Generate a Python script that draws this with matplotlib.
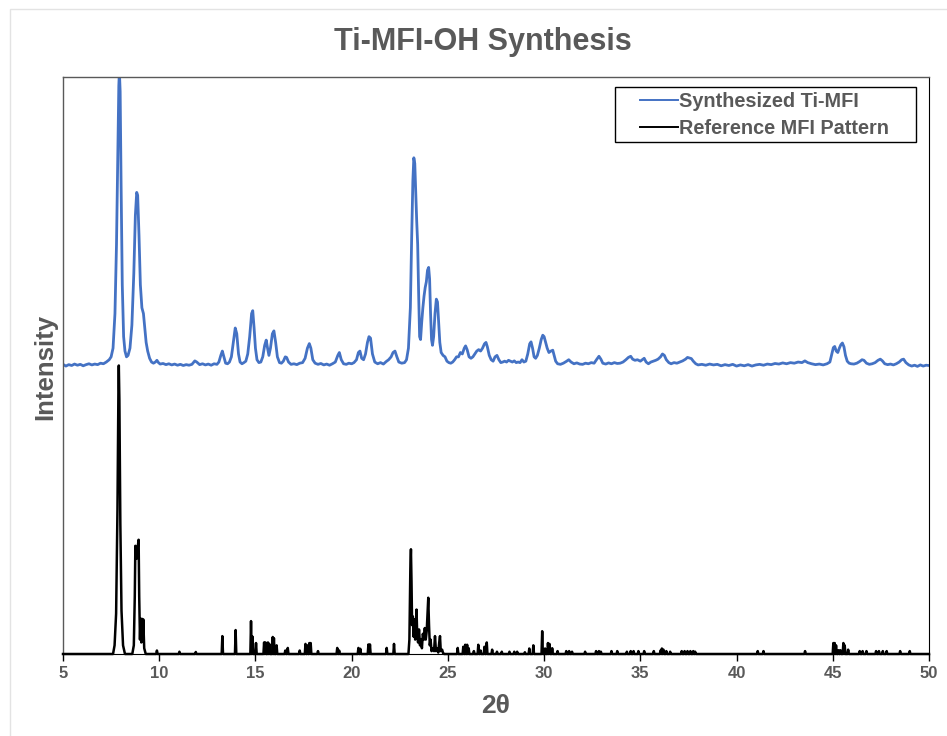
import matplotlib
matplotlib.use("Agg")
import matplotlib.pyplot as plt
from matplotlib.patches import Rectangle
import numpy as np

plt.rcParams["font.family"] = ["Liberation Sans", "DejaVu Sans"]

TITLE = "Ti-MFI-OH Synthesis"
X_LABEL = "2θ"
Y_LABEL = "Intensity"
SERIES_NAMES = ["Synthesized Ti-MFI", "Reference MFI Pattern"]
X_TICKS = [5, 10, 15, 20, 25, 30, 35, 40, 45, 50]

# synthesized sample: (2theta, intensity normalised to strongest peak)
synth_pattern = [
    (5.0, 0.004), (5.15, -0.002), (5.3, 0.003), (5.45, 0.000), (5.6, 0.005),
    (5.75, 0.001), (5.9, 0.004), (6.05, -0.001), (6.2, 0.003), (6.35, 0.006),
    (6.5, 0.002), (6.65, 0.005), (6.8, 0.003), (6.95, 0.008), (7.1, 0.006),
    (7.25, 0.012), (7.4, 0.02), (7.5, 0.03), (7.6, 0.06), (7.7, 0.18),
    (7.78, 0.42), (7.85, 0.75), (7.9, 0.97), (7.93, 1.02), (7.97, 0.95),
    (8.02, 0.62), (8.08, 0.28), (8.15, 0.10), (8.22, 0.05), (8.3, 0.03),
    (8.38, 0.035), (8.48, 0.06), (8.58, 0.14), (8.68, 0.32), (8.76, 0.52),
    (8.83, 0.60), (8.88, 0.59), (8.95, 0.45), (9.02, 0.28), (9.1, 0.20),
    (9.18, 0.18), (9.25, 0.13), (9.32, 0.08), (9.4, 0.05), (9.5, 0.025),
    (9.6, 0.012), (9.7, 0.008), (9.8, 0.012), (9.88, 0.018), (9.96, 0.01),
    (10.05, 0.005), (10.2, 0.007), (10.35, 0.003), (10.5, 0.006), (10.65, 0.002),
    (10.8, 0.005), (10.95, 0.001), (11.1, 0.004), (11.25, 0.000), (11.4, 0.003),
    (11.55, 0.001), (11.7, 0.004), (11.85, 0.016), (11.95, 0.012), (12.1, 0.003),
    (12.25, 0.006), (12.4, 0.002), (12.55, 0.005), (12.7, 0.001), (12.85, 0.006),
    (13.0, 0.004), (13.1, 0.012), (13.2, 0.035), (13.28, 0.05), (13.36, 0.03),
    (13.45, 0.008), (13.55, 0.006), (13.65, 0.012), (13.75, 0.03), (13.85, 0.08),
    (13.95, 0.13), (14.03, 0.11), (14.12, 0.04), (14.2, 0.012), (14.3, 0.006),
    (14.4, 0.01), (14.5, 0.015), (14.6, 0.04), (14.7, 0.10), (14.8, 0.18),
    (14.86, 0.19), (14.93, 0.13), (15.0, 0.06), (15.08, 0.02), (15.18, 0.01),
    (15.28, 0.012), (15.38, 0.03), (15.48, 0.07), (15.56, 0.088), (15.63, 0.06),
    (15.7, 0.035), (15.78, 0.06), (15.88, 0.11), (15.96, 0.12), (16.05, 0.08),
    (16.14, 0.03), (16.25, 0.01), (16.35, 0.008), (16.45, 0.015), (16.55, 0.03),
    (16.62, 0.028), (16.72, 0.012), (16.85, 0.004), (17.0, 0.006), (17.15, 0.003),
    (17.3, 0.008), (17.45, 0.01), (17.58, 0.025), (17.7, 0.06), (17.8, 0.076),
    (17.88, 0.06), (17.98, 0.02), (18.1, 0.008), (18.25, 0.004), (18.4, 0.007),
    (18.55, 0.002), (18.7, 0.005), (18.85, 0.001), (19.0, 0.006), (19.15, 0.012),
    (19.28, 0.035), (19.36, 0.045), (19.46, 0.02), (19.58, 0.006), (19.72, 0.004),
    (19.85, 0.008), (20.0, 0.006), (20.12, 0.01), (20.25, 0.02), (20.35, 0.045),
    (20.43, 0.05), (20.52, 0.025), (20.62, 0.02), (20.72, 0.04), (20.82, 0.08),
    (20.9, 0.10), (20.98, 0.095), (21.08, 0.04), (21.2, 0.012), (21.35, 0.006),
    (21.5, 0.01), (21.65, 0.005), (21.8, 0.014), (21.92, 0.02), (22.05, 0.03),
    (22.15, 0.045), (22.25, 0.05), (22.35, 0.03), (22.45, 0.012), (22.6, 0.008),
    (22.75, 0.01), (22.85, 0.02), (22.95, 0.06), (23.05, 0.20), (23.12, 0.45),
    (23.18, 0.64), (23.23, 0.72), (23.28, 0.70), (23.33, 0.60), (23.38, 0.50),
    (23.43, 0.42), (23.48, 0.25), (23.53, 0.10), (23.58, 0.09), (23.64, 0.15),
    (23.7, 0.20), (23.76, 0.24), (23.82, 0.27), (23.88, 0.29), (23.94, 0.33),
    (24.0, 0.34), (24.05, 0.30), (24.1, 0.18), (24.15, 0.09), (24.2, 0.07),
    (24.26, 0.10), (24.33, 0.18), (24.4, 0.23), (24.46, 0.22), (24.52, 0.15),
    (24.58, 0.08), (24.65, 0.045), (24.75, 0.035), (24.85, 0.03), (24.95, 0.015),
    (25.05, 0.01), (25.15, 0.008), (25.25, 0.012), (25.35, 0.02), (25.45, 0.03),
    (25.55, 0.03), (25.65, 0.045), (25.75, 0.04), (25.85, 0.06), (25.92, 0.068),
    (26.0, 0.055), (26.1, 0.03), (26.2, 0.025), (26.3, 0.03), (26.4, 0.04),
    (26.5, 0.05), (26.6, 0.055), (26.7, 0.05), (26.8, 0.06), (26.9, 0.075),
    (26.98, 0.08), (27.05, 0.065), (27.15, 0.035), (27.25, 0.02), (27.35, 0.015),
    (27.45, 0.03), (27.55, 0.035), (27.65, 0.02), (27.75, 0.01), (27.85, 0.012),
    (27.95, 0.015), (28.05, 0.012), (28.15, 0.018), (28.25, 0.015), (28.35, 0.012),
    (28.45, 0.016), (28.55, 0.01), (28.65, 0.012), (28.75, 0.01), (28.85, 0.02),
    (28.95, 0.012), (29.05, 0.015), (29.15, 0.04), (29.25, 0.075), (29.32, 0.082),
    (29.4, 0.06), (29.48, 0.03), (29.56, 0.025), (29.65, 0.035), (29.75, 0.06),
    (29.85, 0.09), (29.93, 0.105), (30.0, 0.10), (30.08, 0.08), (30.16, 0.06),
    (30.25, 0.045), (30.35, 0.05), (30.45, 0.053), (30.52, 0.035), (30.6, 0.015),
    (30.7, 0.006), (30.85, 0.004), (31.0, 0.008), (31.15, 0.014), (31.28, 0.02),
    (31.4, 0.012), (31.55, 0.006), (31.7, 0.009), (31.85, 0.005), (32.0, 0.004),
    (32.15, 0.008), (32.3, 0.006), (32.45, 0.01), (32.6, 0.008), (32.72, 0.02),
    (32.85, 0.032), (32.95, 0.022), (33.05, 0.008), (33.2, 0.005), (33.35, 0.009),
    (33.5, 0.006), (33.65, 0.01), (33.8, 0.007), (33.95, 0.008), (34.1, 0.012),
    (34.25, 0.02), (34.38, 0.028), (34.5, 0.032), (34.6, 0.022), (34.72, 0.018),
    (34.85, 0.02), (35.0, 0.015), (35.1, 0.02), (35.2, 0.025), (35.3, 0.012),
    (35.42, 0.006), (35.55, 0.012), (35.68, 0.015), (35.8, 0.018), (35.92, 0.022),
    (36.05, 0.03), (36.15, 0.04), (36.25, 0.035), (36.35, 0.02), (36.48, 0.01),
    (36.6, 0.006), (36.75, 0.01), (36.9, 0.008), (37.05, 0.012), (37.2, 0.016),
    (37.35, 0.022), (37.45, 0.028), (37.55, 0.026), (37.65, 0.024), (37.75, 0.015),
    (37.88, 0.006), (38.0, 0.002), (38.2, 0.004), (38.4, 0.001), (38.6, 0.005),
    (38.8, 0.002), (39.0, 0.004), (39.2, -0.001), (39.4, 0.003), (39.6, 0.000),
    (39.8, 0.004), (40.0, -0.002), (40.2, 0.002), (40.4, -0.001), (40.6, 0.003),
    (40.8, -0.002), (41.0, 0.002), (41.2, 0.004), (41.4, 0.001), (41.6, 0.005),
    (41.8, 0.003), (42.0, 0.007), (42.2, 0.005), (42.4, 0.009), (42.6, 0.006),
    (42.8, 0.01), (43.0, 0.008), (43.2, 0.012), (43.4, 0.01), (43.55, 0.016),
    (43.7, 0.01), (43.9, 0.006), (44.1, 0.003), (44.3, 0.005), (44.5, 0.002),
    (44.7, 0.006), (44.85, 0.012), (44.95, 0.04), (45.03, 0.062), (45.1, 0.066),
    (45.18, 0.05), (45.26, 0.045), (45.34, 0.06), (45.42, 0.072), (45.5, 0.078),
    (45.58, 0.065), (45.66, 0.035), (45.75, 0.015), (45.85, 0.008), (45.95, 0.006),
    (46.1, 0.005), (46.25, 0.008), (46.4, 0.014), (46.52, 0.02), (46.62, 0.018),
    (46.75, 0.008), (46.9, 0.004), (47.05, 0.006), (47.2, 0.01), (47.35, 0.018),
    (47.47, 0.022), (47.58, 0.016), (47.7, 0.006), (47.85, 0.003), (48.0, 0.005),
    (48.15, 0.002), (48.3, 0.006), (48.45, 0.012), (48.58, 0.02), (48.68, 0.022),
    (48.8, 0.01), (48.95, 0.002), (49.1, -0.002), (49.25, 0.001), (49.4, -0.003),
    (49.55, 0.002), (49.7, -0.002), (49.85, 0.001), (50.0, 0.0),
]

# reference pattern, main reflections traced point by point
ref_main_peaks = [
    [(7.6, 0.0), (7.68, 0.03), (7.76, 0.14), (7.83, 0.5), (7.88, 0.92), (7.9, 1.0),
     (7.93, 0.88), (7.98, 0.45), (8.04, 0.15), (8.12, 0.03), (8.22, 0.0)],
    [(8.6, 0.0), (8.68, 0.03), (8.73, 0.2), (8.76, 0.375), (8.82, 0.33),
     (8.88, 0.37), (8.93, 0.396), (8.96, 0.2), (8.98, 0.12), (9.0, 0.05),
     (9.03, 0.122), (9.07, 0.04), (9.1, 0.122), (9.14, 0.05), (9.17, 0.12),
     (9.22, 0.02), (9.3, 0.0)],
    [(22.95, 0.0), (23.0, 0.05), (23.05, 0.3), (23.08, 0.363), (23.11, 0.25),
     (23.14, 0.1), (23.18, 0.13), (23.22, 0.06), (23.26, 0.12), (23.3, 0.05),
     (23.34, 0.1), (23.37, 0.154), (23.4, 0.08), (23.45, 0.04), (23.5, 0.085),
     (23.55, 0.03), (23.6, 0.05), (23.65, 0.02), (23.7, 0.07), (23.75, 0.05),
     (23.8, 0.09), (23.85, 0.05), (23.9, 0.08), (23.95, 0.15), (23.98, 0.195),
     (24.02, 0.1), (24.06, 0.03), (24.1, 0.05), (24.15, 0.01), (24.2, 0.02),
     (24.28, 0.01), (24.33, 0.062), (24.38, 0.01), (24.45, 0.02), (24.5, 0.005),
     (24.55, 0.04), (24.59, 0.062), (24.63, 0.01), (24.7, 0.015), (24.75, 0.003),
     (24.8, 0.0)],
]

# reference pattern, weak reflections (position, relative height)
ref_minor_pos = [
    9.88, 11.05, 11.9, 13.28, 13.97, 14.77, 14.85, 15.03, 15.45, 15.52,
    15.65, 15.72, 15.9, 15.96, 16.1, 16.55, 16.68, 17.3, 17.6, 17.7,
    17.8, 17.87, 18.25, 19.25, 19.35, 20.35, 20.45, 20.87, 20.95, 21.82,
    22.2, 25.51, 25.8, 25.9, 26.0, 26.08, 26.35, 26.58, 26.7, 26.9,
    27.02, 27.3, 27.55, 27.8, 28.2, 28.45, 28.6, 29.0, 29.23, 29.44,
    29.9, 30.05, 30.2, 30.28, 30.42, 30.7, 31.15, 31.3, 31.45, 32.13,
    32.7, 32.85, 32.95, 33.5, 33.8, 34.3, 34.5, 34.65, 34.9, 35.2,
    35.7, 36.05, 36.12, 36.2, 36.35, 36.55, 37.15, 37.3, 37.45, 37.6,
    37.75, 37.85, 41.1, 41.4, 43.56, 45.03, 45.1, 45.17, 45.3, 45.4,
    45.55, 45.62, 45.8, 46.4, 46.55, 46.75, 47.25, 47.4, 47.6, 47.8,
    48.5, 49.0,
]
ref_minor_int = [
    0.012, 0.008, 0.007, 0.062, 0.083, 0.114, 0.06, 0.038, 0.04, 0.04,
    0.04, 0.035, 0.059, 0.055, 0.03, 0.012, 0.021, 0.012, 0.035, 0.03,
    0.038, 0.038, 0.01, 0.021, 0.012, 0.021, 0.018, 0.033, 0.033, 0.021,
    0.035, 0.021, 0.025, 0.032, 0.032, 0.02, 0.01, 0.032, 0.012, 0.025,
    0.04, 0.015, 0.008, 0.008, 0.008, 0.008, 0.008, 0.006, 0.019, 0.03,
    0.079, 0.019, 0.038, 0.035, 0.02, 0.01, 0.01, 0.01, 0.008, 0.008,
    0.01, 0.01, 0.008, 0.01, 0.01, 0.008, 0.01, 0.01, 0.01, 0.01,
    0.01, 0.012, 0.019, 0.015, 0.01, 0.008, 0.01, 0.01, 0.01, 0.01,
    0.01, 0.008, 0.01, 0.01, 0.01, 0.038, 0.038, 0.03, 0.013, 0.013,
    0.038, 0.03, 0.015, 0.01, 0.01, 0.01, 0.01, 0.01, 0.01, 0.01,
    0.01, 0.01,
]

BLUE = "#4472C4"
TEXT_GRAY = "#595959"
OFFSET = 0.5   # vertical stacking of the two patterns
SCALE = 0.5
STICK_HALF_WIDTH = 0.035

W, H = 947, 736


def fx(px):
    return px / W


def fy(py):
    return 1 - py / H


def reference_profile():
    """Merge traced main peaks and weak sticks into one sorted polyline."""
    segments = [list(seg) for seg in ref_main_peaks]
    for pos, h in zip(ref_minor_pos, ref_minor_int):
        segments.append([(pos - STICK_HALF_WIDTH, 0.0), (pos, h),
                         (pos + STICK_HALF_WIDTH, 0.0)])
    segments.sort(key=lambda s: s[0][0])
    pts = [(5.0, 0.0)]
    for seg in segments:
        pts.extend(seg)
    pts.append((50.0, 0.0))
    return np.array(pts)


fig = plt.figure(figsize=(W / 100, H / 100), dpi=100)
ax = fig.add_axes([fx(63), fy(654), fx(929) - fx(63), fy(77) - fy(654)])

synth = np.array(synth_pattern)
ref = reference_profile()

ax.plot(synth[:, 0], OFFSET + SCALE * synth[:, 1], color=BLUE, lw=2.0,
        label=SERIES_NAMES[0], solid_joinstyle="round")
ax.plot(ref[:, 0], SCALE * ref[:, 1], color="black", lw=1.8,
        label=SERIES_NAMES[1], clip_on=False, zorder=3)

ax.set_xlim(5, 50)
ax.set_ylim(0, 1.0)
ax.set_xticks(X_TICKS)
ax.set_yticks([])
ax.tick_params(axis="x", direction="out", length=5, width=1, color="black",
               labelsize=12, labelcolor=TEXT_GRAY, pad=4)
for lab in ax.get_xticklabels():
    lab.set_fontweight("bold")

for side in ["left", "top"]:
    ax.spines[side].set_color(TEXT_GRAY)
    ax.spines[side].set_linewidth(1.0)
ax.spines["right"].set_color("black")
ax.spines["bottom"].set_color("black")

# legend entries without frame; the box is drawn separately to match padding
leg = ax.legend(loc="upper left", bbox_to_anchor=(fx(640), fy(92)),
                bbox_transform=fig.transFigure, frameon=False,
                borderpad=0, borderaxespad=0, handlelength=1.9,
                handletextpad=0.05, labelspacing=0.38,
                prop={"size": 14.3, "weight": "bold"})
for t in leg.get_texts():
    t.set_color(TEXT_GRAY)
for ln in leg.get_lines():
    ln.set_linewidth(1.4)
fig.patches.append(Rectangle((fx(615), fy(141.5)), fx(916) - fx(615),
                             fy(87) - fy(141.5), transform=fig.transFigure,
                             fill=False, edgecolor="black", lw=1.0))

fig.text(fx(483), fy(42), TITLE, ha="center", va="center",
         fontsize=22, fontweight="bold", color=TEXT_GRAY)
fig.text(fx(496), fy(706), X_LABEL, ha="center", va="center",
         fontsize=19, fontweight="bold", color=TEXT_GRAY)
fig.text(fx(45), fy(367), Y_LABEL, ha="center", va="center",
         rotation=90, fontsize=18.5, fontweight="bold", color=TEXT_GRAY)

# faint outer frame of the chart area
fig.patches.append(Rectangle((fx(10), -0.1), 1.2, fy(9) + 0.1,
                             transform=fig.transFigure, fill=False,
                             edgecolor="#E3E3E3", lw=1.0))

fig.savefig("out.png", dpi=100)
